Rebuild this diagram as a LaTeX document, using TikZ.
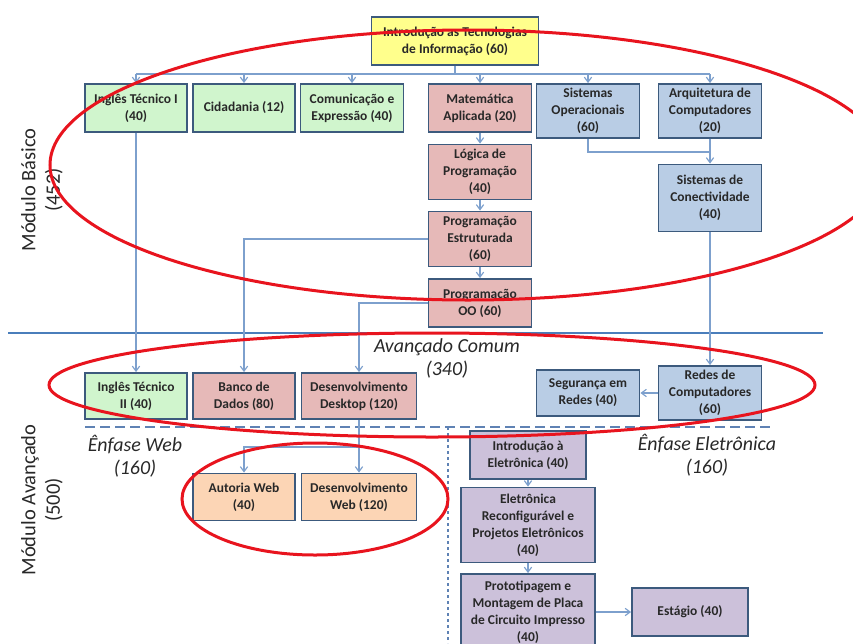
\documentclass[tikz,border=0pt]{standalone}
\usepackage{fontspec}
\setmainfont{Carlito}
\usetikzlibrary{arrows.meta}
\definecolor{boxline}{RGB}{60,90,125}
\definecolor{linkblue}{RGB}{125,160,205}
\definecolor{rulerblue}{RGB}{74,126,187}
\definecolor{dashblue}{RGB}{95,130,180}
\definecolor{markred}{RGB}{232,20,30}
\definecolor{fillyellow}{RGB}{255,255,140}
\definecolor{fillgreen}{RGB}{208,245,205}
\definecolor{fillpink}{RGB}{230,185,184}
\definecolor{fillblue}{RGB}{185,205,229}
\definecolor{fillorange}{RGB}{252,213,181}
\definecolor{fillpurple}{RGB}{204,193,218}
\definecolor{textgray}{RGB}{40,40,40}
\begin{document}
\begin{tikzpicture}[x=0.3mm,y=-0.3mm,line join=miter,
  box/.style={draw=boxline,line width=0.55mm,align=center,inner sep=1pt,
    text=textgray,font=\fontsize{11.5}{14.5}\selectfont\bfseries},
  sz/.style 2 args={minimum width=#1*0.3mm,minimum height=#2*0.3mm},
  link/.style={draw=linkblue,line width=0.35mm},
  arrow/.style={link,-{Straight Barb[length=1.5mm,width=2.2mm]}},
  redring/.style={draw=markred,line width=0.9mm},
  sidelabel/.style={rotate=90,align=center,text=textgray,
    font=\fontsize{17.5}{21}\selectfont},
  track/.style={align=center,text=textgray,
    font=\fontsize{17}{19.6}\selectfont\itshape}]
  \useasboundingbox (0,0) rectangle (853,643);
  \draw[rulerblue,line width=0.6mm] (8,333) -- (823,333);
  \draw[dashblue,line width=0.8mm,dash pattern=on 3mm off 1.5mm] (85,427) -- (773,427);
  \draw[dashblue,line width=0.4mm,dash pattern=on 1mm off 0.8mm] (448,427) -- (448,643);
  \node[sidelabel] (basico) at (42,190) {Módulo Básico\\(452)};
  \node[sidelabel] (avancado) at (42,500) {Módulo Avançado\\(500)};
  \node[track] (comum) at (447,358) {Avançado Comum\\(340)};
  \node[track] (web) at (135,456) {Ênfase Web\\(160)};
  \node[track] (eletr) at (707,455) {Ênfase Eletrônica\\(160)};
  \node[box,fill=fillyellow,sz={167}{48}] (intro) at (455,41) {Introdução as Tecnologias\\de Informação (60)};
  \node[box,fill=fillgreen,sz={102}{48}] (ing1) at (136,108) {Inglês Técnico I\\(40)};
  \node[box,fill=fillgreen,sz={102}{48}] (cid) at (244,108) {Cidadania (12)};
  \node[box,fill=fillgreen,sz={103}{48}] (com) at (352,108) {Comunicação e\\Expressão (40)};
  \node[box,fill=fillpink,sz={103}{48}] (mat) at (480,108) {Matemática\\Aplicada (20)};
  \node[box,fill=fillblue,sz={103}{54}] (so) at (588,111) {Sistemas\\Operacionais\\(60)};
  \node[box,fill=fillblue,sz={103}{54}] (arq) at (710,111) {Arquitetura de\\Computadores\\(20)};
  \node[box,fill=fillpink,sz={103}{55}] (log) at (480,172) {Lógica de\\Programação\\(40)};
  \node[box,fill=fillblue,sz={103}{67}] (conect) at (710,198) {Sistemas de\\Conectividade\\(40)};
  \node[box,fill=fillpink,sz={103}{55}] (pe) at (480,239) {Programação\\Estruturada\\(60)};
  \node[box,fill=fillpink,sz={103}{48}] (poo) at (480,303) {Programação\\OO (60)};
  \node[box,fill=fillgreen,sz={102}{46}] (ing2) at (136,396) {Inglês Técnico\\II (40)};
  \node[box,fill=fillpink,sz={102}{46}] (bd) at (244,396) {Banco de\\Dados (80)};
  \node[box,fill=fillpink,sz={115}{46}] (dd) at (359,396) {Desenvolvimento\\Desktop (120)};
  \node[box,fill=fillblue,sz={103}{46}] (seg) at (588,393) {Segurança em\\Redes (40)};
  \node[box,fill=fillblue,sz={103}{54}] (redes) at (710,393) {Redes de\\Computadores\\(60)};
  \node[box,fill=fillorange,sz={102}{47}] (aw) at (244,497) {Autoria Web\\(40)};
  \node[box,fill=fillorange,sz={115}{47}] (dw) at (359,497) {Desenvolvimento\\Web (120)};
  \node[box,fill=fillpurple,sz={116}{48}] (ie) at (528,455) {Introdução à\\Eletrônica (40)};
  \node[box,fill=fillpurple,sz={134}{75}] (er) at (528,525) {Eletrônica\\Reconfigurável e\\Projetos Eletrônicos\\(40)};
  \node[box,fill=fillpurple,sz={134}{76}] (pr) at (528,612) {Prototipagem e\\Montagem de Placa\\de Circuito Impresso\\(40)};
  \node[box,fill=fillpurple,sz={116}{48}] (est) at (690,612) {Estágio (40)};
  \coordinate (bus) at (455,74);
  \coordinate (osjoin) at (710,152);
  \coordinate (webfork) at (359,447);
  \draw[link] (intro.south) -- (bus);
  \draw[link] (ing1.north |- bus) -- (arq.north |- bus);
  \foreach \n in {ing1,cid,com,mat,so,arq}
    \draw[arrow] (\n.north |- bus) -- (\n.north);
  \draw[arrow] (ing1.south) -- (ing2.north);
  \draw[arrow] (mat) -- (log);
  \draw[arrow] (log) -- (pe);
  \draw[arrow] (pe) -- (poo);
  \draw[arrow] (pe.west) -| (bd.north);
  \draw[arrow] (poo.west) -| (dd.north);
  \draw[link] (so.south) |- (osjoin);
  \draw[arrow] (arq.south) -- (conect.north);
  \draw[arrow] (conect.south) -- (redes.north);
  \draw[arrow] (redes.west) -- (seg.east);
  \draw[arrow] (dd.south) -- (dw.north);
  \draw[arrow] (webfork) -| (aw.north);
  \draw[arrow] (ie) -- (er);
  \draw[arrow] (er) -- (pr);
  \draw[arrow] (pr.east |- est) -- (est.west);
  \draw[redring] (468,165) ellipse [x radius=125.4mm,y radius=40.5mm];
  \draw[redring] (432,385) ellipse [x radius=114.9mm,y radius=15.6mm];
  \draw[redring] (315,499) ellipse [x radius=39.9mm,y radius=16.8mm];
\end{tikzpicture}
\end{document}
